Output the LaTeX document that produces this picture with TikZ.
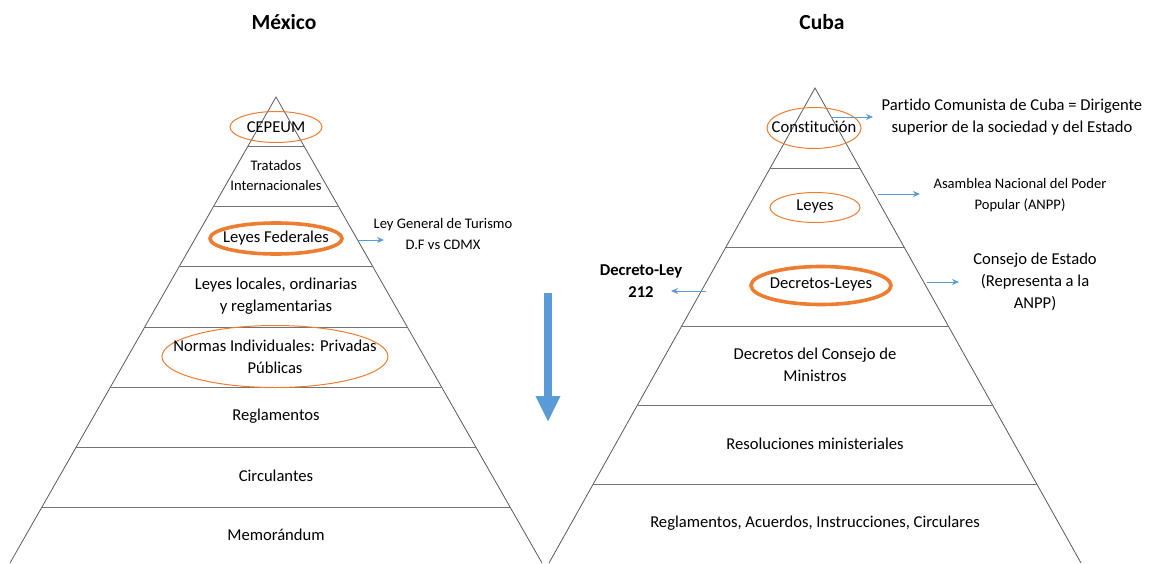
\documentclass[tikz,border=0pt]{standalone}
\usepackage{fontspec}
\setmainfont{Carlito}[Ligatures=NoCommon]
\usetikzlibrary{shapes.geometric,arrows.meta,calc}
\definecolor{orange1}{HTML}{ED7D31}
\definecolor{blue1}{HTML}{5B9BD5}
\definecolor{edge}{HTML}{595959}
\tikzset{
 pyr/.style={draw=edge, line width=0.8pt},
 layer/.style={draw=black!55, line width=1pt},
 lbl/.style={font=\fontsize{16.6}{22}\selectfont, align=center, inner sep=0},
 small/.style={font=\fontsize{14.6}{20.5}\selectfont, align=center, inner sep=0},
 ttl/.style={font=\fontsize{21.5}{24}\selectfont\bfseries, inner sep=0},
 ring/.style={draw=orange1, ellipse, line width=1pt, inner sep=0},
 thickring/.style={ring, line width=3.6pt},
 ptr/.style={draw=blue1, line width=0.8pt, -{Stealth[length=7pt,width=6pt]}},
}
\begin{document}
\begin{tikzpicture}[x=1pt,y=-1pt]
\useasboundingbox (0,0) rectangle (1151,563);
\begin{scope}
\clip (0,0) rectangle (1151,563);
% Mexico pyramid
\coordinate (LA) at (276,97);
\coordinate (LL) at (10,563);
\coordinate (LR) at (542,563);
\draw[pyr] (LL) -- (LA) -- (LR);
\foreach \yy in {147,207,267,327,387,447,507}{
  \pgfmathsetmacro\t{(\yy-97)/466}
  \draw[layer] ($(LA)!\t!(LL)$) -- ($(LA)!\t!(LR)$);
}
% Cuba pyramid
\coordinate (CA) at (815,88);
\coordinate (CL) at (549,563);
\coordinate (CR) at (1081,563);
\draw[pyr] (CL) -- (CA) -- (CR);
\foreach \yy in {168,247,326,405,484}{
  \pgfmathsetmacro\t{(\yy-88)/475}
  \draw[layer] ($(CA)!\t!(CL)$) -- ($(CA)!\t!(CR)$);
}
\end{scope}

% titles
\node[ttl] (tmx) at (284,22) {México};
\node[ttl] (tcu) at (822,22) {Cuba};

% Mexico labels
\node[ring, minimum width=92pt, minimum height=31pt] (eCep) at (276,127) {};
\node[lbl] (cep) at (276,127) {CEPEUM};
\node[small] (trat) at (276,175.5) {Tratados\\Internacionales};
\node[thickring, minimum width=132pt, minimum height=31pt] (eLF) at (276,238.5) {};
\node[lbl] (lf) at (276,238) {Leyes Federales};
\node[lbl] (ll) at (276,296) {Leyes locales, ordinarias\\y reglamentarias};
\node[ring, minimum width=226pt, minimum height=62pt] (eNI) at (275,356.5) {};
\node[lbl] (ni) at (275,356.5) {Normas Individuales: Privadas\\Públicas};
\node[lbl] (reg) at (276,416) {Reglamentos};
\node[lbl] (circ) at (276,476) {Circulantes};
\node[lbl] (mem) at (276,535) {Memorándum};

\node[small] (lgt) at (443,234) {Ley General de Turismo\\D.F vs CDMX};
\coordinate (a1s) at (357,240);
\coordinate (a1e) at (384,240);
\draw[ptr] (a1s) -- (a1e);

% big arrow
\coordinate (bA) at (548,293);
\coordinate (bB) at (548,422);
\draw[blue1, line width=8pt, -{Triangle[length=26pt,width=23pt]}] (bA) -- (bB);

% Cuba labels
\node[ring, minimum width=94pt, minimum height=41pt] (eCon) at (814,128) {};
\node[lbl] (con) at (814,127) {Constitución};
\coordinate (a2s) at (831,117);
\coordinate (a2e) at (873,117);
\draw[ptr] (a2s) -- (a2e);
\node[lbl] (pcc) at (1012,117) {Partido Comunista de Cuba = Dirigente\\superior de la sociedad y del Estado};

\node[ring, minimum width=90pt, minimum height=30pt] (eLey) at (815,207.5) {};
\node[lbl] (ley) at (815,207) {Leyes};
\coordinate (a3s) at (878,194);
\coordinate (a3e) at (920,194);
\draw[ptr] (a3s) -- (a3e);
\node[small] (anpp) at (1020,195) {Asamblea Nacional del Poder\\Popular (ANPP)};

\node[thickring, minimum width=140pt, minimum height=38pt] (eDL) at (821,285.5) {};
\node[lbl] (dl) at (821,285) {Decretos-Leyes};
\coordinate (a4s) at (706,291);
\coordinate (a4e) at (671,291);
\draw[ptr] (a4s) -- (a4e);
\node[lbl, font=\fontsize{16.6}{22}\selectfont\bfseries] (d212) at (641,281) {Decreto-Ley\\212};
\coordinate (a5s) at (927,282);
\coordinate (a5e) at (959,282);
\draw[ptr] (a5s) -- (a5e);
\node[lbl] (ce) at (1035,281.5) {Consejo de Estado\\(Representa a la\\ANPP)};

\node[lbl] (dcm) at (815,365) {Decretos del Consejo de\\Ministros};
\node[lbl] (rm) at (815,444) {Resoluciones ministeriales};
\node[lbl] (rai) at (815,523) {Reglamentos, Acuerdos, Instrucciones, Circulares};
\end{tikzpicture}
\end{document}
